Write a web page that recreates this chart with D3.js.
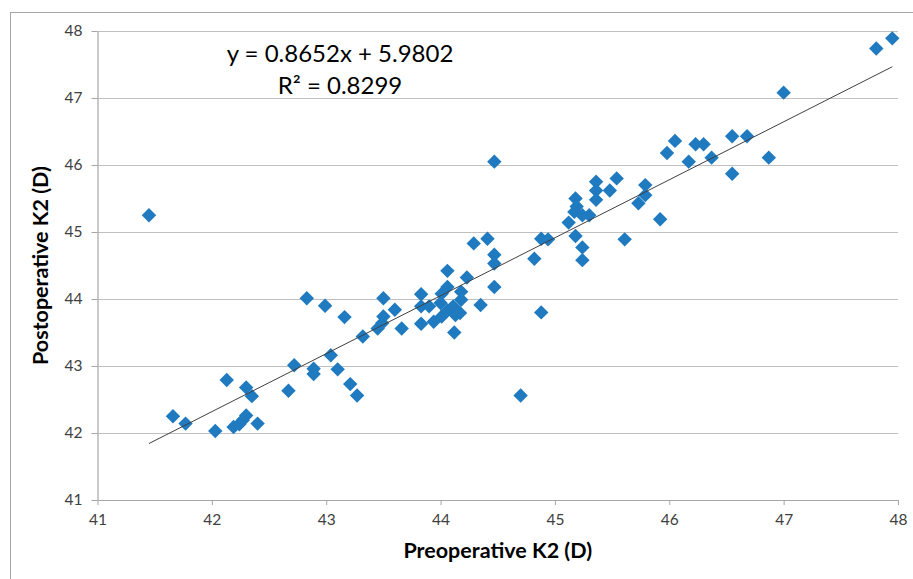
<!DOCTYPE html>
<html>
<head>
<meta charset="utf-8">
<script src="https://cdn.jsdelivr.net/npm/d3@7"></script>
<style>
  body { margin: 0; background: #fff; }
  svg { display: block; font-family: Lato, "Noto Sans", sans-serif; }
</style>
</head>
<body>
<div id="chart"></div>
<script>
// Preoperative vs postoperative K2 (D)
const preK2 = [41.45, 41.66, 41.77, 42.03, 42.13, 42.19, 42.24, 42.27, 42.30, 42.30,
  42.35, 42.40, 42.67, 42.72, 42.83, 42.89, 42.89, 42.99, 43.04, 43.10,
  43.16, 43.21, 43.27, 43.32, 43.45, 43.49, 43.50, 43.50, 43.60, 43.66,
  43.83, 43.83, 43.90, 43.83, 43.94, 44.01, 44.00, 44.01, 44.06, 44.06,
  44.06, 44.11, 44.13, 44.12, 44.18, 44.18, 44.17, 44.23, 44.29, 44.35,
  44.41, 44.47, 44.47, 44.47, 44.47, 44.70, 44.82, 44.88, 44.94, 44.88,
  45.12, 45.18, 45.19, 45.17, 45.24, 45.30, 45.18, 45.24, 45.24, 45.36,
  45.36, 45.36, 45.48, 45.54, 45.61, 45.73, 45.79, 45.79, 45.92, 45.98,
  46.05, 46.17, 46.23, 46.30, 46.37, 46.55, 46.68, 46.55, 46.87, 47.00,
  47.81, 47.95];
const postK2 = [45.25, 42.25, 42.14, 42.03, 42.79, 42.09, 42.13, 42.19, 42.26, 42.68,
  42.55, 42.14, 42.63, 43.01, 44.01, 42.96, 42.88, 43.90, 43.16, 42.95,
  43.73, 42.73, 42.56, 43.44, 43.56, 43.64, 43.74, 44.01, 43.84, 43.56,
  44.07, 43.89, 43.89, 43.63, 43.66, 44.08, 43.94, 43.74, 44.42, 44.18,
  43.83, 43.89, 43.76, 43.50, 44.11, 43.99, 43.79, 44.32, 44.83, 43.91,
  44.90, 46.05, 44.66, 44.53, 44.18, 42.56, 44.60, 44.90, 44.89, 43.80,
  45.14, 45.50, 45.38, 45.30, 45.25, 45.25, 44.94, 44.77, 44.58, 45.75,
  45.62, 45.48, 45.62, 45.80, 44.89, 45.43, 45.70, 45.55, 45.19, 46.18,
  46.36, 46.05, 46.31, 46.31, 46.11, 46.43, 46.43, 45.87, 46.11, 47.08,
  47.74, 47.89];

const xTicks = [41, 42, 43, 44, 45, 46, 47, 48];
const yTicks = [41, 42, 43, 44, 45, 46, 47, 48];

// linear trendline as printed on the chart
const slope = 0.8652;
const intercept = 5.9802;
const eqLabel = "y = 0.8652x + 5.9802";
const r2Label = "R² = 0.8299";

const xTitle = "Preoperative K2 (D)";
const yTitle = "Postoperative K2 (D)";

const width = 913, height = 579;
const margin = {top: 31, right: 15, bottom: 79, left: 97.5};

const svg = d3.select("#chart").append("svg")
  .attr("width", width)
  .attr("height", height);

// outer chart frame (right and bottom edges fall outside the picture)
svg.append("rect")
  .attr("x", 10.5).attr("y", 12.5)
  .attr("width", width + 20).attr("height", height + 20)
  .attr("fill", "none")
  .attr("stroke", "#a6a6a6");

const x = d3.scaleLinear().domain([41, 48]).range([margin.left, width - margin.right]);
const y = d3.scaleLinear().domain([41, 48]).range([height - margin.bottom, margin.top]);

// horizontal gridlines
svg.append("g")
  .selectAll("line")
  .data(yTicks.slice(1))
  .join("line")
  .attr("x1", x(41)).attr("x2", x(48))
  .attr("y1", d => Math.round(y(d)) + 0.5)
  .attr("y2", d => Math.round(y(d)) + 0.5)
  .attr("stroke", "#c0c0c0")
  .attr("stroke-width", 1.2);

const yAxis = svg.append("g")
  .attr("transform", `translate(${x(41)},0)`)
  .call(d3.axisLeft(y).tickValues(yTicks).tickSize(6).tickSizeOuter(0).tickPadding(9).tickFormat(d3.format("d")));

const xAxis = svg.append("g")
  .attr("transform", `translate(0,${y(41)})`)
  .call(d3.axisBottom(x).tickValues(xTicks).tickSize(5).tickSizeOuter(0).tickPadding(9).tickFormat(d3.format("d")));

[xAxis, yAxis].forEach(g => {
  g.select(".domain").attr("stroke", "#a6a6a6").attr("stroke-width", 1.2);
  g.selectAll(".tick line").attr("stroke", "#a6a6a6");
  g.selectAll(".tick text")
    .attr("fill", "#404040")
    .style("font-size", "15.5px")
    .style("font-family", "Lato, sans-serif");
});

// data points, Excel-style diamonds
const pts = preK2.map((v, i) => ({pre: v, post: postK2[i]}));
const diamond = d3.symbol().type(d3.symbolSquare).size(104);

svg.append("g")
  .selectAll("path")
  .data(pts)
  .join("path")
  .attr("d", diamond)
  .attr("transform", d => `translate(${x(d.pre)},${y(d.post)}) rotate(45)`)
  .attr("fill", "#1f7abf");

// trendline over the range of the data
const xExt = d3.extent(preK2);
const line = d3.line().x(d => x(d)).y(d => y(slope * d + intercept));
svg.append("path")
  .datum(xExt)
  .attr("d", line)
  .attr("fill", "none")
  .attr("stroke", "#404040")
  .attr("stroke-width", 1);

// equation labels
svg.append("text")
  .attr("x", 340).attr("y", 62)
  .attr("text-anchor", "middle")
  .style("font-size", "24px")
  .attr("fill", "#000")
  .text(eqLabel);

svg.append("text")
  .attr("x", 340).attr("y", 94)
  .attr("text-anchor", "middle")
  .style("font-size", "24px")
  .attr("fill", "#000")
  .text(r2Label);

// axis titles
svg.append("text")
  .attr("x", (x(41) + x(48)) / 2).attr("y", 558)
  .attr("text-anchor", "middle")
  .style("font-size", "21.5px")
  .style("font-weight", "bold")
  .attr("fill", "#000")
  .text(xTitle);

svg.append("text")
  .attr("transform", `translate(48,${(y(41) + y(48)) / 2}) rotate(-90)`)
  .attr("text-anchor", "middle")
  .style("font-size", "21.5px")
  .style("font-weight", "bold")
  .attr("fill", "#000")
  .text(yTitle);
</script>
</body>
</html>
